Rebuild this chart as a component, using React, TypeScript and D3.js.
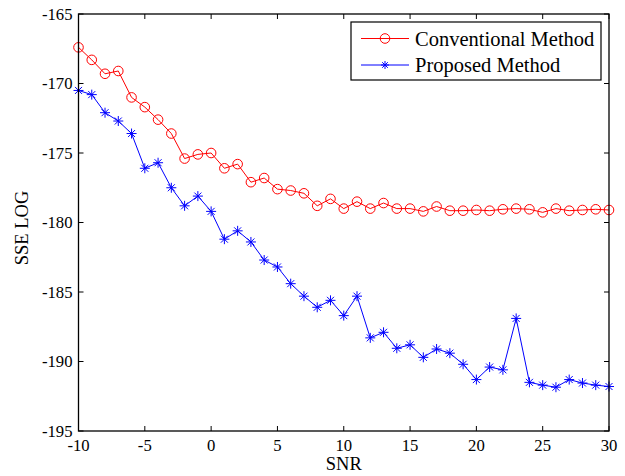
import React, { useEffect, useRef } from "react";
import * as d3 from "d3";

const snr = d3.range(-10, 31);
const conventional = [
  -167.4, -168.3, -169.3, -169.1, -171.0, -171.7, -172.6, -173.6, -175.4, -175.1,
  -175.0, -176.1, -175.8, -177.1, -176.8, -177.6, -177.7, -177.9, -178.8, -178.3,
  -179.0, -178.5, -179.0, -178.6, -179.0, -179.0, -179.2, -178.85, -179.15, -179.15,
  -179.1, -179.15, -179.05, -179.0, -179.05, -179.27, -179.0, -179.15, -179.1, -179.05,
  -179.1,
];
const proposed = [
  -170.5, -170.8, -172.1, -172.7, -173.6, -176.1, -175.7, -177.5, -178.8, -178.1,
  -179.2, -181.2, -180.6, -181.4, -182.7, -183.2, -184.4, -185.3, -186.1, -185.6,
  -186.7, -185.3, -188.3, -187.9, -189.05, -188.8, -189.7, -189.1, -189.4, -190.2,
  -191.3, -190.4, -190.6, -186.9, -191.5, -191.7, -191.85, -191.3, -191.55, -191.7,
  -191.8,
];
const xTicks = [-10, -5, 0, 5, 10, 15, 20, 25, 30];
const yTicks = [-195, -190, -185, -180, -175, -170, -165];
const seriesNames = ["Conventional Method", "Proposed Method"];
const seriesColors = ["#ff0000", "#0000ff"];

const W = 625, H = 476;
const L = 78.5, R = 609, T = 14, B = 431;
const FONT = "'Liberation Serif', 'Times New Roman', serif";

function star(g: any, x: number, y: number, color: string, s = 5) {
  const d = `M${x - s},${y}L${x + s},${y}M${x},${y - s}L${x},${y + s}` +
    `M${x - s * 0.7},${y - s * 0.7}L${x + s * 0.7},${y + s * 0.7}M${x - s * 0.7},${y + s * 0.7}L${x + s * 0.7},${y - s * 0.7}`;
  g.append("path").attr("d", d).attr("stroke", color).attr("stroke-width", 1).attr("fill", "none");
}

export default function App() {
  const ref = useRef<SVGSVGElement>(null);
  useEffect(() => {
    const svg = d3.select(ref.current);
    svg.selectAll("*").remove();
    const x = d3.scaleLinear().domain([-10, 30]).range([L, R]);
    const y = d3.scaleLinear().domain([-195, -165]).range([B, T]);

    const line = d3.line<number>().x((_, i) => x(snr[i])).y((d) => y(d));

    // data
    const g = svg.append("g");
    [conventional, proposed].forEach((vals, si) => {
      g.append("path").attr("d", line(vals)!).attr("fill", "none")
        .attr("stroke", seriesColors[si]).attr("stroke-width", 1);
      vals.forEach((v, i) => {
        if (si === 0) {
          g.append("circle").attr("cx", x(snr[i])).attr("cy", y(v)).attr("r", 4.8)
            .attr("fill", "none").attr("stroke", seriesColors[si]).attr("stroke-width", 1);
        } else {
          star(g, x(snr[i]), y(v), seriesColors[si]);
        }
      });
    });

    // axes box
    const ax = svg.append("g");
    ax.append("rect").attr("x", L).attr("y", T).attr("width", R - L).attr("height", B - T)
      .attr("fill", "none").attr("stroke", "#000").attr("stroke-width", 1.3);
    const tl = 5;
    xTicks.forEach((t) => {
      const px = x(t);
      ax.append("line").attr("x1", px).attr("x2", px).attr("y1", B).attr("y2", B - tl).attr("stroke", "#000");
      ax.append("line").attr("x1", px).attr("x2", px).attr("y1", T).attr("y2", T + tl).attr("stroke", "#000");
      ax.append("text").attr("x", px).attr("y", B + 19.5).attr("text-anchor", "middle")
        .attr("font-family", FONT).attr("font-size", 16.7).text(String(t));
    });
    yTicks.forEach((t) => {
      const py = y(t);
      ax.append("line").attr("x1", L).attr("x2", L + tl).attr("y1", py).attr("y2", py).attr("stroke", "#000");
      ax.append("line").attr("x1", R).attr("x2", R - tl).attr("y1", py).attr("y2", py).attr("stroke", "#000");
      ax.append("text").attr("x", L - 6).attr("y", py + 5.8).attr("text-anchor", "end")
        .attr("font-family", FONT).attr("font-size", 16.7).text(String(t));
    });
    ax.append("text").attr("x", (L + R) / 2).attr("y", 470).attr("text-anchor", "middle")
      .attr("font-family", FONT).attr("font-size", 18.5).text("SNR");
    ax.append("text").attr("transform", `translate(28,228) rotate(-90)`).attr("text-anchor", "middle")
      .attr("font-family", FONT).attr("font-size", 18.5).text("SSE LOG");

    // legend
    const lg = svg.append("g");
    lg.append("rect").attr("x", 351).attr("y", 22).attr("width", 250).attr("height", 58)
      .attr("fill", "#fff").attr("stroke", "#000").attr("stroke-width", 1.2);
    seriesNames.forEach((name, i) => {
      const ly = 38.5 + i * 26.5;
      lg.append("line").attr("x1", 361).attr("x2", 409).attr("y1", ly).attr("y2", ly)
        .attr("stroke", seriesColors[i]).attr("stroke-width", 1);
      if (i === 0) {
        lg.append("circle").attr("cx", 385).attr("cy", ly).attr("r", 4.8).attr("fill", "none")
          .attr("stroke", seriesColors[i]);
      } else {
        star(lg, 385, ly, seriesColors[i], 4);
      }
      lg.append("text").attr("x", 415).attr("y", ly + 7).attr("font-family", FONT)
        .attr("font-size", 20.5).text(name);
    });
  }, []);
  return (
    <svg ref={ref} width={W} height={H}
      style={{ position: "absolute", left: 0, top: 0, background: "#fff" }} />
  );
}
